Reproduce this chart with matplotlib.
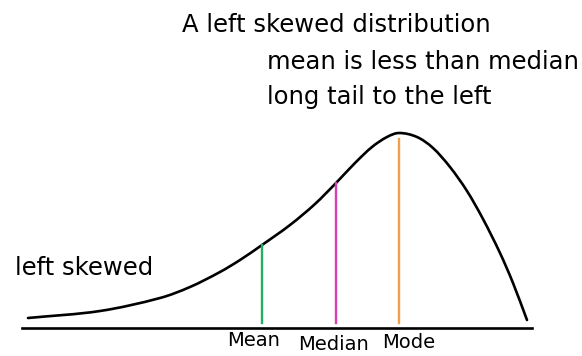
#!/usr/bin/env python3
"""Left skewed distribution sketch with mean / median / mode markers."""
import matplotlib
matplotlib.use('Agg')
import matplotlib.pyplot as plt
from matplotlib.path import Path
from matplotlib.patches import PathPatch

plt.rcParams.update({'font.family': 'DejaVu Sans'})

# curve: x position, height above baseline
curve_x = [28, 100, 160, 190, 220, 240, 262, 290, 315, 336, 355, 372, 387, 399,
           417, 433, 450, 467, 483, 500, 513, 527]
curve_h = [10, 17, 30, 41, 56, 68, 83, 103, 124, 145, 165, 181, 191, 195,
           191, 180, 161, 137, 109, 75, 45, 8]

markers = ['Mean', 'Median', 'Mode']
marker_x = [262, 336, 399]
marker_h = [83, 145, 189]
marker_colors = ['#22b060', '#d63fb5', '#f0a04c']
label_x = [254, 333, 409]
label_y = [-13, -16, -15]

fig = plt.figure(figsize=(5.82, 3.56), dpi=100)
ax = fig.add_axes([0, 0, 1, 1])
ax.set_xlim(0, 582)
ax.set_ylim(-28, 328)
ax.axis('off')

# smooth path through the read points (cubic Hermite as Bezier segments)
n = len(curve_x)
slopes = []
for i in range(n):
    a, b = max(i - 1, 0), min(i + 1, n - 1)
    slopes.append((curve_h[b] - curve_h[a]) / (curve_x[b] - curve_x[a]))
verts = [(curve_x[0], curve_h[0])]
codes = [Path.MOVETO]
for i in range(n - 1):
    d = (curve_x[i + 1] - curve_x[i]) / 3
    verts += [(curve_x[i] + d, curve_h[i] + slopes[i] * d),
              (curve_x[i + 1] - d, curve_h[i + 1] - slopes[i + 1] * d),
              (curve_x[i + 1], curve_h[i + 1])]
    codes += [Path.CURVE4] * 3
ax.add_patch(PathPatch(Path(verts, codes), facecolor='none', edgecolor='black',
                       lw=1.9, capstyle='round'))
ax.plot([22, 532], [0, 0], color='black', lw=1.9)

for name, x, h, c, lx, ly in zip(markers, marker_x, marker_h, marker_colors,
                                 label_x, label_y):
    ax.plot([x, x], [5, h], color=c, lw=1.7)
    ax.text(lx, ly, name, ha='center', va='center', fontsize=14)

ax.text(182, 303, 'A left skewed distribution', fontsize=17.5, va='center')
ax.text(267, 266, 'mean is less than median', fontsize=17.5, va='center')
ax.text(267, 231, 'long tail to the left', fontsize=17.5, va='center')
ax.text(15, 60, 'left skewed', fontsize=17.5, va='center')

fig.savefig('out.png', dpi=100)
